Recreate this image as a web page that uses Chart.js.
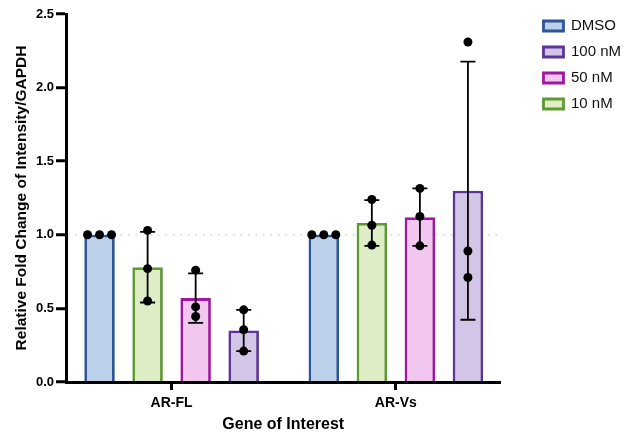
<!DOCTYPE html>
<html>
<head>
<meta charset="utf-8">
<script src="https://cdn.jsdelivr.net/npm/chart.js@4.4.0/dist/chart.umd.min.js"></script>
<style>
  html, body { margin: 0; padding: 0; background: #fff; }
  #wrap { width: 633px; height: 438px; }
</style>
</head>
<body>
<div id="wrap"><canvas id="chart"></canvas></div>
<script>
const genes = ["AR-FL", "AR-Vs"];
const treatments = ["DMSO", "10 nM", "50 nM", "100 nM"];
const legendOrder = ["DMSO", "100 nM", "50 nM", "10 nM"];
const yTicks = [0, 0.5, 1.0, 1.5, 2.0, 2.5];

// bar heights (mean), one value per gene
const meanDMSO = [1.0, 1.0];
const mean10 = [0.78, 1.08];
const mean50 = [0.57, 1.12];
const mean100 = [0.35, 1.30];

// error bars (SD)
const sdDMSO = [0, 0];
const sd10 = [0.24, 0.155];
const sd50 = [0.168, 0.195];
const sd100 = [0.14, 0.877];

// replicate points
const ptsDMSO = [[1, 1, 1], [1, 1, 1]];
const pts10 = [[1.03, 0.77, 0.55], [1.24, 1.065, 0.93]];
const pts50 = [[0.76, 0.51, 0.445], [1.315, 1.125, 0.925]];
const pts100 = [[0.49, 0.355, 0.21], [2.31, 0.89, 0.71]];

const means = [meanDMSO, mean10, mean50, mean100];
const sds = [sdDMSO, sd10, sd50, sd100];
const points = [ptsDMSO, pts10, pts50, pts100];

const borderColors = ["#2d5597", "#5e9a34", "#a0189f", "#5b3595"];
const fillColors = ["#bdd0ea", "#deedc5", "#f2c7ef", "#d2c5e6"];

const FONT = "'Liberation Sans', Arial, Helvetica, sans-serif";

// error bars + replicate dots on top of the bars
const dotsPlugin = {
  id: "dots",
  afterDatasetsDraw(chart) {
    const ctx = chart.ctx;
    const y = chart.scales.y;
    ctx.save();
    means.forEach((series, k) => {
      const meta = chart.getDatasetMeta(k);
      meta.data.forEach((bar, j) => {
        const cx = bar.x;
        const sd = sds[k][j];
        if (sd > 0) {
          const top = y.getPixelForValue(series[j] + sd);
          const bot = y.getPixelForValue(series[j] - sd);
          ctx.strokeStyle = "#000";
          ctx.lineWidth = 1.8;
          ctx.beginPath();
          ctx.moveTo(cx, top); ctx.lineTo(cx, bot);
          ctx.moveTo(cx - 7.5, top); ctx.lineTo(cx + 7.5, top);
          ctx.moveTo(cx - 7.5, bot); ctx.lineTo(cx + 7.5, bot);
          ctx.stroke();
        }
        const vals = points[k][j];
        vals.forEach((v, i) => {
          const same = vals.filter((w) => w === v);
          const pos = vals.slice(0, i).filter((w) => w === v).length;
          const dx = (pos - (same.length - 1) / 2) * 12;
          ctx.fillStyle = "#000";
          ctx.beginPath();
          ctx.arc(cx + dx, y.getPixelForValue(v), 4.5, 0, Math.PI * 2);
          ctx.fill();
        });
      });
    });
    ctx.restore();
  },
};

new Chart(document.getElementById("chart"), {
  type: "bar",
  data: {
    datasets: treatments.map((name, k) => ({
      label: name,
      data: means[k].map((v, i) => ({ x: i, y: v })),
      backgroundColor: fillColors[k],
      borderColor: borderColors[k],
      borderWidth: 2.8,
      categoryPercentage: 0.857,
      barPercentage: 0.635,
    })),
  },
  options: {
    responsive: true,
    maintainAspectRatio: false,
    animation: false,
    layout: { padding: { top: 7.5, right: 2, bottom: 0, left: 0 } },
    plugins: {
      tooltip: { enabled: false },
      legend: {
        position: "right",
        align: "start",
        labels: {
          boxWidth: 20,
          boxHeight: 10,
          padding: 11,
          color: "#111",
          font: { family: FONT, size: 15 },
          sort: (a, b) => legendOrder.indexOf(a.text) - legendOrder.indexOf(b.text),
        },
      },
    },
    scales: {
      x: {
        type: "linear",
        min: -0.471,
        max: 1.4665,
        offset: false,
        afterBuildTicks: (s) => { s.ticks = genes.map((g, i) => ({ value: i })); },
        afterFit: (s) => { s.height = 56; },
        grid: {
          offset: false,
          drawOnChartArea: false,
          drawTicks: true,
          tickLength: 8,
          tickWidth: 3,
          tickColor: "#000",
        },
        border: { display: true, color: "#000", width: 3, z: 1 },
        ticks: {
          padding: 5,
          color: "#000",
          font: { family: FONT, size: 14, weight: "bold" },
          callback: (v) => genes[v],
        },
        title: {
          display: true,
          text: "Gene of Interest",
          color: "#000",
          font: { family: FONT, size: 16, weight: "bold" },
          padding: { top: 0, bottom: 4 },
        },
      },
      y: {
        min: 0,
        max: 2.5,
        afterBuildTicks: (s) => { s.ticks = yTicks.map((v) => ({ value: v })); },
        afterFit: (s) => { s.width = 66; s.paddingTop = 14; },
        grid: {
          drawTicks: true,
          tickLength: 10,
          tickWidth: 3,
          tickColor: "#000",
          lineWidth: 1.5,
          color: (c) => (c.tick && c.tick.value === 1 ? "#d4d4d4" : "rgba(0,0,0,0)"),
        },
        border: { display: true, color: "#000", width: 3, dash: [1.5, 6], z: 1 },
        ticks: {
          padding: 2,
          color: "#000",
          font: { family: FONT, size: 13, weight: "bold", lineHeight: 1 },
          callback: (v) => Number(v).toFixed(1),
        },
        title: {
          display: true,
          text: "Relative Fold Change of Intensity/GAPDH",
          color: "#000",
          font: { family: FONT, size: 15.5, weight: "bold" },
          padding: { top: 12, bottom: 0 },
        },
      },
      gap: {
        type: "linear",
        position: "right",
        display: true,
        grid: { display: false },
        border: { display: false },
        ticks: { display: false },
        afterFit: (s) => { s.width = 32; },
      },
    },
  },
  plugins: [dotsPlugin],
});
</script>
</body>
</html>
